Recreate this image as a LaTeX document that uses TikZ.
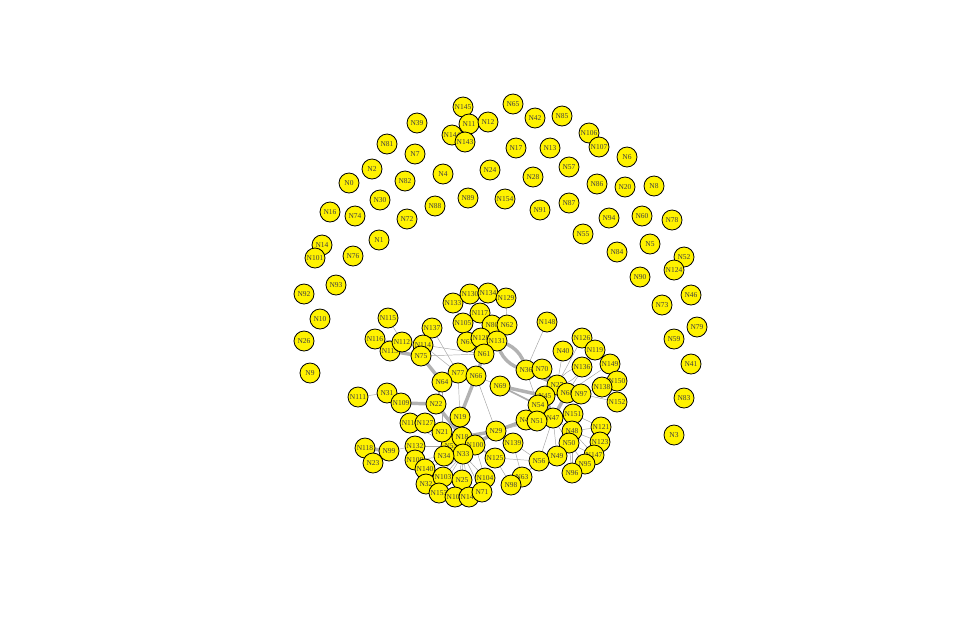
\documentclass[tikz,border=0pt]{standalone}
\usepackage{fontspec}
\setmainfont{Liberation Serif}
\pgfdeclarelayer{bg}
\pgfsetlayers{bg,main}
\tikzset{
  nd/.style={circle,draw=black,line width=0.6pt,fill=yellow,minimum size=15pt,inner sep=0pt,
    font=\fontsize{5.6}{6}\selectfont,text=black!75},
  ed/.style={draw=gray!70,line width=0.35pt},
  edm/.style={draw=gray!65,line width=1.3pt},
  edt/.style={draw=gray!60,line width=2.6pt},
}
\begin{document}
\begin{tikzpicture}[x=0.75pt,y=-0.75pt]
\useasboundingbox (0,0) rectangle (963,622);
% outer ring
\foreach \n/\x/\y in {N145/463/107,N65/513/104,N42/535/118,N85/562/116,N11/469/124,N12/488/122,
 N144/452/135,N143/465/142,N39/417/123,N81/387/144,N7/415/154,N2/372/169,N0/349/183,N82/405/181,
 N30/380/200,N16/330/212,N74/355/216,N72/407/219,N88/435/206,N4/443/174,N24/490/170,N17/516/148,
 N13/550/148,N89/468/198,N154/505/199,N28/533/177,N57/569/167,N91/540/210,N87/569/203,N106/589/133,
 N107/599/147,N6/627/157,N86/597/184,N20/625/187,N8/654/186,N94/609/218,N60/642/216,N78/672/220,
 N55/583/234,N84/617/252,N5/650/244,N52/684/257,N124/674/270,N90/640/277,N73/662/305,N46/691/295,
 N79/697/327,N59/674/339,N41/691/364,N83/684/398,N3/674/435,N14/322/245,N101/315/258,N76/353/256,
 N1/379/240,N93/336/285,N92/304/294,N10/320/319,N26/304/341,N9/310/373}
 {\node[nd] (\n) at (\x,\y) {\n};}
% cluster
\foreach \n/\x/\y in {N115/388/318,N116/375/339,N113/390/351,N112/402/342,N137/432/328,N114/423/345,N75/421/356,
 N133/453/303,N130/470/294,N134/488/293,N129/506/298,N117/480/313,N105/463/323,N80/492/325,N62/507/325,
 N67/467/342,N128/481/338,N131/497/341,N61/484/354,N148/547/322,N77/458/373,N64/442/382,N66/476/376,
 N69/500/386,N36/526/370,N70/542/369,N40/563/351,N126/582/338,N119/595/350,N136/582/367,N149/610/364,
 N150/617/381,N138/602/387,N152/617/402,N27/557/385,N68/567/393,N97/581/394,N45/545/396,N54/538/405,
 N47/553/418,N151/573/414,N44/526/420,N51/537/421,N48/572/431,N121/601/427,N123/600/442,N50/569/443,
 N49/557/456,N147/594/455,N95/585/464,N96/572/473,N56/539/461,N29/496/431,N139/513/443,N125/495/458,
 N63/522/477,N98/511/485,N111/358/397,N31/387/393,N109/401/403,N22/436/404,N19/460/417,N110/410/423,
 N127/425/423,N53/451/446,N21/442/432,N132/415/446,N18/462/437,N100/475/445,N33/463/454,N34/444/456,
 N108/415/460,N140/425/469,N32/426/484,N103/443/477,N25/462/480,N104/485/478,N153/439/493,N102/455/497,
 N146/469/497,N71/482/492,N118/365/448,N99/389/451,N23/373/463}
 {\node[nd] (\n) at (\x,\y) {\n};}
\begin{pgfonlayer}{bg}
\foreach \a/\b in {N111/N31,N31/N109,N115/N112,N116/N112,N75/N114,N75/N137,N114/N61,N75/N61,N137/N77,
 N114/N77,N77/N66,N66/N29,N148/N36,N40/N27,N126/N27,N119/N68,N149/N68,N138/N97,N152/N97,N150/N138,
 N36/N54,N47/N49,N47/N56,N47/N50,N48/N121,N151/N121,N48/N123,N50/N147,N50/N95,N48/N96,N48/N147,N29/N56,
 N139/N63,N125/N56,N125/N98,N56/N63,N29/N139,N29/N51,N99/N132,N132/N53,N110/N53,N127/N53,N21/N53,
 N19/N53,N34/N33,N33/N108,N33/N140,N33/N32,N33/N103,N33/N25,N33/N104,N33/N153,N33/N102,N33/N146,
 N33/N71,N53/N140,N100/N104,N117/N80,N129/N62,N133/N105,N130/N117,N134/N117,N105/N61,N67/N61,
 N128/N61,N62/N61,N80/N61,N69/N66,N64/N21,N77/N19,N47/N48,N47/N151,N50/N96}
 {\draw[ed] (\a.center) -- (\b.center);}
\foreach \a/\b in {N64/N22,N100/N125,N69/N54}
 {\draw[edm] (\a.center) -- (\b.center);}
\foreach \a/\b in {N113/N75,N75/N64,N61/N66,N66/N19,N109/N22,N22/N18,N100/N29,N18/N29,N29/N44,
 N44/N54,N45/N54,N45/N47,N54/N47,N68/N47,N69/N45,N36/N27,N70/N27,N27/N45,N118/N99}
 {\draw[edt] (\a.center) -- (\b.center);}
\draw[edt] (N131.center) to[bend left=35] (N36.center);
\draw[edt] (N131.center) to[bend right=35] (N36.center);
\draw[ed] (N136.center) to[bend left=30] (N27.center);
\draw[ed] (N136.center) to[bend right=30] (N27.center);
\end{pgfonlayer}
\end{tikzpicture}
\end{document}
